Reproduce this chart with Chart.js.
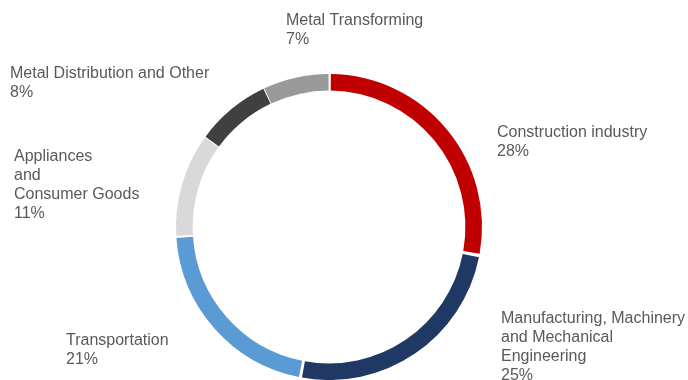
<!DOCTYPE html>
<html>
<head>
<meta charset="utf-8">
<script src="https://cdn.jsdelivr.net/npm/chart.js@4"></script>
<style>
  html, body { margin: 0; padding: 0; background: #ffffff; }
  #wrap { width: 688px; height: 380px; }
</style>
</head>
<body>
<div id="wrap"><canvas id="canvas1"></canvas></div>
<script>
// data
let categories = [
    ['Construction industry'],
    ['Manufacturing, Machinery', 'and Mechanical', 'Engineering'],
    ['Transportation'],
    ['Appliances', 'and', 'Consumer Goods'],
    ['Metal Distribution and Other'],
    ['Metal Transforming']
];
let shares = [28, 25, 21, 11, 8, 7];

let colors = ['#C00000', '#203864', '#5B9BD5', '#D9D9D9', '#404040', '#999999'];
// left x and middle y of the first line of each label block
let labelPos = [[497, 133], [501, 319], [66, 341], [14, 157], [10, 74], [286, 21]];

const labelPlugin = {
    id: 'outerLabels',
    afterDraw(chart) {
        const ctx = chart.ctx;
        const ds = chart.data.datasets[0];
        ctx.save();
        ctx.font = '16px "Liberation Sans", Arial, sans-serif';
        ctx.fillStyle = '#595959';
        ctx.textAlign = 'left';
        ctx.textBaseline = 'middle';
        chart.data.labels.forEach(function (lines, i) {
            let x = labelPos[i][0];
            let y = labelPos[i][1];
            let all = lines.concat([ds.data[i] + '%']);
            all.forEach(function (t, k) {
                ctx.fillText(t, x, y + k * 19);
            });
        });
        ctx.restore();
    }
};

document.addEventListener('DOMContentLoaded', function () {
    let canvas1 = document.getElementById("canvas1");

    let chart1 = new Chart(canvas1, {
        type: 'doughnut',
        data: {
            labels: categories,
            datasets: [{
                data: shares,
                backgroundColor: colors,
                borderWidth: 0,
                spacing: 4
            }]
        },
        options: {
            responsive: true,
            maintainAspectRatio: false,
            animation: false,
            cutout: '89%',
            layout: {
                padding: { left: 176, right: 206, top: 74, bottom: 0 }
            },
            plugins: {
                legend: { display: false },
                tooltip: { enabled: false }
            }
        },
        plugins: [labelPlugin]
    });
});
</script>
</body>
</html>
